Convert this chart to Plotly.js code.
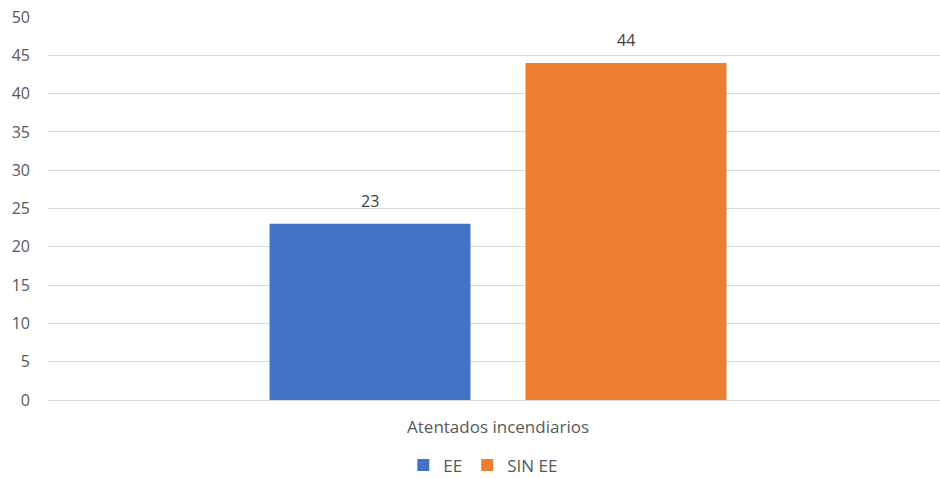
<!DOCTYPE html>
<html>
<head>
<meta charset="utf-8">
<script src="https://cdn.plot.ly/plotly-3.0.1.min.js"></script>
<style>html,body{margin:0;padding:0;background:#fff;}#chart{width:940px;height:478px;}</style>
</head>
<body>
<div id="chart"></div>
<script>
const categories = ["Atentados incendiarios"];
const seriesNames = ["EE", "SIN EE"];
const valuesEE = [23];
const valuesSinEE = [44];
const yTicks = [0, 5, 10, 15, 20, 25, 30, 35, 40, 45, 50];

const font = "Open Sans, Segoe UI, sans-serif";
const seriesValues = [valuesEE, valuesSinEE];
const seriesColors = ["#4472C4", "#ED7D31"];
const traces = seriesValues.map((vals, i) => ({
  type: "bar", name: seriesNames[i], x: categories, y: vals,
  marker: {color: seriesColors[i]}, hoverinfo: "skip"
}));
const labelShift = [-128, 128];
const annotations = [];
seriesValues.forEach((vals, i) => {
  vals.forEach((v, j) => {
    annotations.push({x: categories[j], y: v, xref: "x", yref: "y", text: String(v),
      showarrow: false, yanchor: "bottom", yshift: 10, xshift: labelShift[i],
      font: {size: 16, color: "#404040", family: font}});
  });
});
const layout = {
  width: 940, height: 478,
  margin: {l: 48, r: 0, t: 17, b: 78, autoexpand: false},
  paper_bgcolor: "#fff", plot_bgcolor: "#fff",
  font: {family: font, color: "#595959", size: 16},
  barmode: "group", bargap: 0.426, bargroupgap: 0.215,
  showlegend: true,
  annotations: annotations,
  legend: {orientation: "h", x: 0.488, xanchor: "center", y: -0.218, yanchor: "bottom",
    font: {size: 17, color: "#595959"}, itemwidth: 30, traceorder: "normal",
    tracegroupgap: 0, borderwidth: 0},
  xaxis: {showgrid: false, showline: true, linecolor: "#d9d9d9", linewidth: 1,
    range: [-0.5045, 0.4955],
    ticks: "", tickfont: {size: 17, color: "#595959"}, ticklabelstandoff: 12},
  yaxis: {range: [0, 50], tickvals: yTicks, ticktext: yTicks.map(String),
    showgrid: true, gridcolor: "#d9d9d9", gridwidth: 1, zeroline: false, showline: false,
    ticks: "", tickfont: {size: 16, color: "#595959"}, ticklabelstandoff: 17, fixedrange: true}
};
Plotly.newPlot("chart", traces, layout, {displayModeBar: false, staticPlot: true});
</script>
</body>
</html>
